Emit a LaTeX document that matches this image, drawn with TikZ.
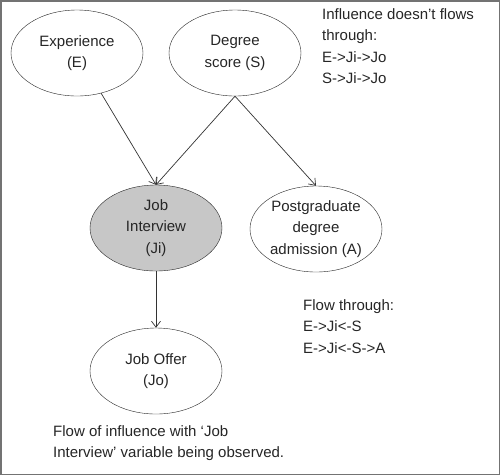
\documentclass[tikz,border=0pt]{standalone}
\usepackage{fontspec}
\setmainfont{Liberation Sans}
\usetikzlibrary{arrows.meta,shapes.geometric}
\begin{document}
\begin{tikzpicture}[x=1pt,y=-1pt,
  var/.style={draw=black!85, ellipse, minimum width=132pt, minimum height=86pt, inner sep=0pt, align=center, font=\fontsize{15}{21.5}\selectfont, text=black!85},
  obs/.style={var, fill=black!22},
  edge/.style={draw=black!80, line width=0.7pt, -{Straight Barb[length=6pt,width=9pt]}},
  note/.style={anchor=north west, align=left, font=\fontsize{15}{21.5}\selectfont, text=black!85, inner sep=0pt}]
\draw[black!55, line width=1.5pt, fill=white] (0.75,0.75) rectangle (499.25,474.25);
\useasboundingbox (0,0) rectangle (500,475);
\node[var] (E) at (77,53) {Experience\\(E)};
\node[var] (S) at (235,53) {Degree\\score (S)};
\node[obs] (Ji) at (156,228) {Job\\Interview\\(Ji)};
\node[var] (A) at (316,229) {Postgraduate\\degree\\admission (A)};
\node[var] (Jo) at (156,371) {Job Offer\\(Jo)};
\draw[edge] (E) -- (Ji.north);
\draw[edge] (S.south) -- (Ji.north);
\draw[edge] (S.south) -- (A.north);
\draw[edge] (Ji) -- (Jo);
\node[note] (n1) at (322,8) {Influence doesn’t flows\\through:\\E->Ji->Jo\\S->Ji->Jo};
\node[note] (n2) at (303,299) {Flow through:\\E->Ji<-S\\E->Ji<-S->A};
\node[note] (n3) at (53,425) {Flow of influence with ‘Job\\Interview’ variable being observed.};
\end{tikzpicture}
\end{document}
